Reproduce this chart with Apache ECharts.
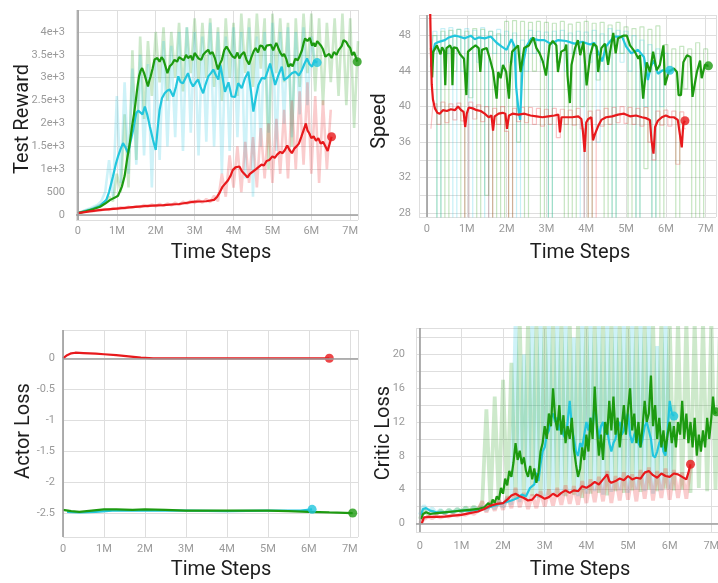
<!DOCTYPE html>
<html>
<head>
<meta charset="utf-8">
<script src="https://cdn.jsdelivr.net/npm/echarts@6/dist/echarts.min.js"></script>
<style>
  html, body { margin: 0; padding: 0; background: #ffffff; }
  #chart { width: 718px; height: 583px; }
</style>
</head>
<body>
<div id="chart"></div>
<script>
// Training curves: smoothed runs ([step in millions, value]) plus the raw
// logged values, one entry every 0.1M steps from the given start step.

// ---- Test Reward ----
const rewardGreen = [[0,40],[0.2,80],[0.4,130],[0.57,180],[0.7,250],[0.83,330],[0.95,380],[1.03,420],[1.13,620],[1.2,850],[1.26,1200],[1.33,1550],[1.39,1930],[1.44,2200],[1.48,2450],[1.53,2800],[1.57,3030],[1.61,3150],[1.65,3210],[1.7,3100],[1.74,3140],[1.8,2810],[1.84,2950],[1.87,3030],[1.92,3200],[1.97,3400],[2.04,3430],[2.1,3350],[2.15,3450],[2.2,3390],[2.25,3250],[2.3,3100],[2.36,3250],[2.42,3300],[2.48,3390],[2.55,3350],[2.6,3450],[2.65,3470],[2.72,3380],[2.78,3500],[2.83,3430],[2.9,3480],[2.95,3380],[3.0,3540],[3.05,3480],[3.1,3420],[3.17,3390],[3.22,3500],[3.28,3560],[3.35,3610],[3.4,3520],[3.46,3560],[3.52,3430],[3.56,3300],[3.6,3180],[3.65,3300],[3.7,3390],[3.76,3600],[3.82,3680],[3.87,3610],[3.93,3520],[3.98,3460],[4.04,3430],[4.1,3550],[4.15,3420],[4.2,3500],[4.27,3560],[4.33,3400],[4.4,3290],[4.46,3450],[4.52,3580],[4.57,3650],[4.63,3550],[4.68,3700],[4.74,3690],[4.8,3600],[4.85,3700],[4.9,3680],[4.96,3720],[5.02,3600],[5.06,3680],[5.1,3760],[5.15,3650],[5.2,3550],[5.26,3470],[5.3,3520],[5.36,3400],[5.41,3240],[5.47,3300],[5.52,3250],[5.59,3420],[5.65,3380],[5.7,3470],[5.76,3600],[5.8,3750],[5.84,3860],[5.9,3800],[5.96,3870],[6.02,3700],[6.06,3760],[6.1,3680],[6.15,3800],[6.2,3830],[6.25,3700],[6.3,3620],[6.36,3460],[6.4,3480],[6.46,3520],[6.52,3430],[6.58,3560],[6.65,3500],[6.7,3600],[6.78,3690],[6.83,3820],[6.9,3780],[6.95,3700],[7.0,3650],[7.05,3490],[7.1,3560],[7.18,3350]];
const rewardCyan = [[0,40],[0.3,110],[0.55,190],[0.73,330],[0.8,500],[0.9,840],[0.97,1100],[1.03,1280],[1.1,1450],[1.16,1570],[1.22,1480],[1.29,1350],[1.35,1600],[1.42,1860],[1.5,2230],[1.55,2280],[1.6,2300],[1.66,2200],[1.72,2370],[1.78,2200],[1.85,1930],[1.93,1640],[2.0,1420],[2.05,1900],[2.1,2300],[2.16,2550],[2.23,2660],[2.3,2720],[2.36,2740],[2.45,2590],[2.52,2800],[2.58,3030],[2.64,2900],[2.7,2880],[2.77,3000],[2.83,3100],[2.9,2900],[2.96,2810],[3.03,2900],[3.09,2960],[3.15,2800],[3.22,2660],[3.28,2850],[3.35,3030],[3.42,3100],[3.48,3180],[3.55,3050],[3.61,2960],[3.66,3290],[3.72,3000],[3.78,2690],[3.87,2900],[3.95,2590],[4.04,2580],[4.12,2880],[4.21,2770],[4.3,3000],[4.38,3130],[4.45,2700],[4.51,2260],[4.58,2600],[4.64,2840],[4.73,3000],[4.81,2980],[4.88,3150],[4.94,3310],[5.0,3100],[5.07,2840],[5.15,3050],[5.24,3240],[5.3,2950],[5.41,3020],[5.5,3100],[5.59,3130],[5.68,3050],[5.76,3170],[5.82,3300],[5.89,3420],[5.95,3300],[6.02,3240],[6.08,3380],[6.15,3330]];
const rewardRed = [[0,40],[0.3,80],[0.6,110],[1.0,140],[1.4,170],[1.8,200],[2.2,215],[2.6,240],[3.0,290],[3.3,300],[3.5,330],[3.58,400],[3.65,500],[3.72,620],[3.8,700],[3.86,760],[3.92,850],[3.98,980],[4.05,1040],[4.1,1000],[4.15,1060],[4.22,950],[4.3,880],[4.36,820],[4.42,900],[4.5,950],[4.58,1000],[4.65,1050],[4.72,1100],[4.78,1080],[4.85,1180],[4.92,1200],[5.0,1280],[5.06,1250],[5.12,1320],[5.2,1380],[5.26,1350],[5.32,1420],[5.38,1520],[5.44,1420],[5.5,1350],[5.56,1450],[5.62,1500],[5.68,1560],[5.74,1700],[5.8,1850],[5.86,2000],[5.9,1850],[5.95,1780],[6.0,1680],[6.06,1720],[6.12,1620],[6.18,1680],[6.24,1560],[6.3,1600],[6.36,1500],[6.42,1400],[6.46,1520],[6.52,1710]];
const rewardGreenRaw = [40,70,100,120,150,190,230,280,400,300,900,500,2200,600,3600,1200,3900,2100,3800,2600,4000,2900,4100,2500,4000,3000,4200,2700,4100,3100,4300,2900,4200,3000,4300,2800,4100,2500,4300,3000,4200,2600,4400,3100,4300,2800,4400,3200,4300,1000,4400,3100,4300,2900,4200,1500,4300,2800,4400,3100,4400,2700,4300,2400,4200,2900,4300,2600,4400,2400,4300,1900,3800];
const rewardCyanRaw = [40,70,110,140,180,220,300,500,1200,400,2600,700,2900,900,3200,1100,3500,1300,3300,600,3400,1200,3800,1500,3700,1700,4000,1400,4100,1800,4000,1300,3900,1600,4200,1500,4000,900,3900,1400,4100,1700,4000,800,4100,400,3900,1500,4000,1800,4200,1400,4000,2000,4100,1700,4000,2200,4100,2400,3900,3300];
const rewardRedRaw = [40,60,70,90,80,110,100,130,110,150,130,170,140,180,160,190,170,220,180,230,190,240,200,250,210,270,220,290,240,310,260,330,270,350,280,420,300,900,400,1300,600,1500,500,1600,700,1700,600,1900,800,2000,700,2100,900,2300,800,2500,1000,2700,1100,2900,900,2600,700,2500,1000,2300];

// ---- Speed ----
const speedGreen = [[0.1,46.6],[0.13,43.3],[0.16,46.2],[0.25,46.9],[0.34,45.9],[0.38,46.7],[0.43,46.3],[0.46,42.4],[0.49,46.6],[0.58,46.9],[0.62,46.5],[0.64,42.4],[0.67,46.7],[0.75,46.6],[0.83,45.9],[0.93,45.4],[0.99,41.3],[1.03,46.2],[1.13,46.6],[1.22,46.9],[1.3,46.6],[1.34,43.9],[1.38,46.4],[1.5,46.6],[1.58,45.4],[1.66,44.0],[1.75,40.9],[1.79,43.9],[1.85,43.2],[1.91,44.7],[1.99,43.9],[2.06,40.9],[2.1,44.5],[2.14,46.2],[2.29,46.9],[2.35,43.9],[2.44,46.6],[2.56,46.9],[2.67,47.8],[2.75,46.6],[2.83,46.0],[2.91,45.1],[2.99,43.5],[3.08,46.9],[3.16,47.4],[3.25,46.9],[3.29,43.9],[3.37,46.2],[3.46,46.4],[3.5,47.0],[3.53,43.5],[3.59,40.4],[3.63,44.7],[3.72,46.6],[3.79,47.5],[3.85,45.8],[3.93,47.3],[4.01,42.4],[4.1,45.8],[4.18,47.1],[4.26,46.8],[4.3,43.9],[4.38,46.6],[4.47,47.1],[4.55,44.7],[4.6,46.2],[4.68,48.3],[4.74,46.0],[4.8,47.7],[4.93,48.0],[5.02,48.0],[5.1,46.9],[5.22,46.2],[5.31,45.4],[5.35,45.8],[5.43,40.9],[5.52,45.0],[5.6,43.9],[5.68,46.2],[5.77,44.1],[5.85,44.7],[5.94,46.9],[5.98,42.4],[6.07,43.9],[6.2,44.3],[6.28,43.9],[6.32,41.3],[6.38,41.3],[6.44,45.0],[6.53,45.8],[6.62,45.6],[6.67,41.1],[6.78,43.9],[6.86,45.2],[6.9,43.2],[6.98,44.7],[7.07,44.6]];
const speedCyan = [[0.1,44.5],[0.15,46.0],[0.2,47.1],[0.3,47.3],[0.45,47.5],[0.55,47.8],[0.7,48.0],[0.8,47.9],[0.95,47.7],[1.1,48.0],[1.2,47.6],[1.3,47.8],[1.45,47.7],[1.6,47.9],[1.75,47.2],[1.87,46.8],[2.0,46.4],[2.12,47.6],[2.2,46.8],[2.24,42.2],[2.3,39.6],[2.34,38.5],[2.4,44.5],[2.5,46.8],[2.62,47.7],[2.8,47.5],[2.95,47.5],[3.1,47.1],[3.3,47.5],[3.5,47.4],[3.7,47.1],[3.9,47.3],[4.1,47.0],[4.2,47.2],[4.4,45.1],[4.5,46.8],[4.7,47.9],[4.9,47.9],[5.0,46.8],[5.13,46.0],[5.3,46.4],[5.45,45.6],[5.55,43.0],[5.62,44.5],[5.7,45.2],[5.8,43.7],[5.92,44.1],[6.0,44.0],[6.1,44.1]];
const speedRed = [[0.08,51],[0.1,46],[0.12,42.5],[0.15,40.8],[0.2,39.8],[0.26,39.3],[0.32,39.2],[0.4,39.6],[0.5,39.5],[0.6,39.7],[0.7,39.6],[0.78,40.0],[0.86,39.6],[0.92,39.4],[0.96,37.7],[1.0,39.2],[1.05,39.9],[1.15,39.8],[1.25,39.6],[1.35,39.5],[1.45,39.2],[1.55,38.8],[1.62,39.0],[1.66,37.3],[1.7,38.9],[1.8,39.2],[1.9,39.3],[1.97,39.2],[2.01,37.5],[2.06,39.0],[2.15,39.2],[2.3,39.1],[2.45,39.2],[2.6,39.0],[2.75,38.9],[2.9,38.8],[3.05,38.9],[3.2,39.0],[3.3,39.1],[3.34,37.1],[3.38,38.8],[3.5,38.8],[3.65,38.8],[3.8,38.9],[3.88,38.6],[3.92,37.1],[3.96,34.9],[4.0,38.2],[4.05,38.6],[4.13,38.8],[4.17,36.2],[4.22,36.9],[4.3,37.8],[4.38,38.5],[4.5,38.8],[4.65,38.9],[4.8,39.1],[4.95,39.2],[5.1,38.9],[5.25,39.0],[5.4,38.8],[5.5,38.7],[5.6,38.5],[5.64,36.2],[5.69,34.7],[5.73,37.7],[5.8,38.4],[5.9,38.8],[6.0,39.0],[6.1,38.8],[6.2,38.8],[6.3,38.5],[6.35,38.6],[6.4,35.4],[6.44,38.1],[6.48,38.4]];
const speedGreenRaw = [45,48,27,48.5,27,48.6,44,48.7,27,48.5,41,48.8,27,48.7,30,48.5,27,48.2,27,49.6,27,49.7,36,49.6,27,49.5,44,49.6,27,49.5,27,49.4,45,49.6,27,49.3,27,49.5,40,49.6,27,49.4,43,49.5,27,49.2,27,49.5,46,49.0,27,48.8,27,49.0,33,48.7,27,49.1,27,47.0,44,46.5,27,46.8,42,46.5,27,47.2,27,46.5,44.5];
const speedCyanRaw = [44,48.5,27,48.8,46,48.9,27,48.7,44,48.8,27,48.6,45,48.9,27,48.5,46,48.7,44,48.5,45,48.3,27,47.5,44,48.6,46,48.5,45,48.4,27,48.5,46,48.6,44,48.3,46,48.5,27,48.4,45,48.6,36,48.2,44,48.8,27,48.6,45,48.5,44,48.0,27,47.5,40,47.0,27,46.5,40,46.0,44];
const speedRedRaw = [37.5,40.3,38,40.5,38.2,40.3,38.5,40.4,38.4,27,40.5,38.6,40.2,38.3,40.0,27,39.8,38.0,40.0,37.2,27,39.8,38.3,39.9,38.2,39.9,38.0,39.8,37.8,39.7,38.0,39.8,36.5,39.7,38.0,39.6,37.9,39.8,37.5,27,39.5,27,39.6,37.8,39.8,38.0,39.9,38.2,40.0,38.1,39.9,38.0,39.8,37.8,39.9,36.0,34.0,39.5,37.9,39.6,37.8,39.5,33.5,39.4,37.5];

// ---- Actor Loss ----
const actorRed = [[0,0],[0.1,0.05],[0.2,0.08],[0.3,0.09],[0.5,0.085],[0.8,0.075],[1.0,0.065],[1.3,0.05],[1.6,0.03],[1.9,0.01],[2.2,0.0],[3,0],[4,0],[5,0],[6,0],[6.5,0]];
const actorGreen = [[0,-2.45],[0.2,-2.47],[0.4,-2.48],[0.7,-2.46],[1.0,-2.44],[1.3,-2.44],[1.7,-2.45],[2.0,-2.44],[2.5,-2.45],[3,-2.46],[3.5,-2.46],[4,-2.46],[4.5,-2.46],[5,-2.46],[5.5,-2.47],[6,-2.48],[6.5,-2.49],[7.07,-2.5]];
const actorCyan = [[0.1,-2.48],[0.4,-2.49],[0.8,-2.48],[1.2,-2.46],[2,-2.46],[3,-2.46],[4,-2.47],[5,-2.46],[5.5,-2.46],[5.8,-2.46],[6.08,-2.44]];

// ---- Critic Loss ----
const criticGreen = [[0.03,0.5],[0.08,1.1],[0.15,1.3],[0.25,1.1],[0.4,1.2],[0.6,1.3],[0.8,1.4],[1.0,1.5],[1.2,1.6],[1.4,1.7],[1.55,1.9],[1.65,2.4],[1.7,2.0],[1.75,2.8],[1.8,2.4],[1.85,3.2],[1.9,2.8],[1.95,4.2],[2.0,3.5],[2.05,5.3],[2.1,4.5],[2.15,6.2],[2.2,5.5],[2.25,7.2],[2.3,9.5],[2.35,7.5],[2.4,8.6],[2.45,7.0],[2.5,7.8],[2.55,6.2],[2.6,5.5],[2.65,6.8],[2.7,5.2],[2.75,6.5],[2.8,4.8],[2.85,6.0],[2.9,8.5],[2.95,9.5],[3.0,11.5],[3.05,10.0],[3.1,13.0],[3.15,11.5],[3.2,16.0],[3.25,12.5],[3.3,11.0],[3.35,14.0],[3.4,10.5],[3.45,12.8],[3.5,9.5],[3.55,11.5],[3.6,10.0],[3.65,12.5],[3.7,8.8],[3.75,7.0],[3.8,5.5],[3.85,6.5],[3.9,9.0],[3.95,7.5],[4.0,10.5],[4.05,8.5],[4.1,12.5],[4.15,10.0],[4.2,16.2],[4.25,11.5],[4.3,8.0],[4.35,10.5],[4.4,7.5],[4.45,12.0],[4.5,10.5],[4.55,14.5],[4.6,11.0],[4.65,15.0],[4.7,10.5],[4.75,12.5],[4.8,9.0],[4.85,11.5],[4.9,14.0],[4.95,10.5],[5.0,13.5],[5.05,16.0],[5.1,11.0],[5.15,13.0],[5.2,9.5],[5.25,12.0],[5.3,9.0],[5.35,11.5],[5.4,14.5],[5.45,12.0],[5.5,13.0],[5.55,17.5],[5.6,11.5],[5.65,14.0],[5.7,10.0],[5.75,12.5],[5.8,9.0],[5.85,11.0],[5.9,8.5],[5.95,10.5],[6.0,12.0],[6.05,9.5],[6.1,11.5],[6.15,9.0],[6.2,12.0],[6.25,10.5],[6.3,14.5],[6.35,10.0],[6.4,13.0],[6.45,9.5],[6.5,12.0],[6.55,9.0],[6.6,12.5],[6.65,8.0],[6.7,10.5],[6.75,8.5],[6.8,11.0],[6.85,9.0],[6.9,12.5],[6.95,10.0],[7.0,12.5],[7.04,15.0],[7.08,13.0],[7.12,13.2]];
const criticCyan = [[0.03,1.0],[0.08,1.7],[0.15,1.8],[0.25,1.5],[0.4,1.3],[0.6,1.3],[0.8,1.4],[1.0,1.5],[1.2,1.5],[1.4,1.6],[1.6,1.8],[1.8,2.1],[2.0,2.4],[2.2,2.7],[2.35,3.0],[2.45,3.4],[2.55,3.2],[2.65,4.2],[2.75,4.6],[2.8,6.0],[2.85,5.0],[2.9,7.0],[2.95,8.5],[3.0,9.0],[3.05,10.5],[3.1,11.0],[3.15,12.5],[3.2,13.0],[3.25,12.0],[3.3,12.5],[3.35,11.0],[3.4,12.0],[3.45,10.5],[3.5,10.0],[3.55,12.0],[3.6,14.5],[3.65,11.5],[3.7,10.0],[3.75,8.5],[3.8,8.0],[3.85,9.5],[3.9,9.0],[3.95,10.5],[4.0,12.0],[4.05,11.0],[4.1,12.5],[4.15,11.0],[4.2,14.5],[4.25,12.0],[4.3,10.0],[4.35,11.5],[4.4,12.0],[4.45,10.5],[4.5,11.0],[4.55,9.5],[4.6,8.5],[4.65,9.5],[4.7,10.0],[4.75,11.5],[4.8,12.0],[4.85,10.5],[4.9,11.0],[4.95,12.5],[5.0,13.0],[5.05,10.5],[5.1,9.5],[5.15,10.5],[5.2,11.0],[5.25,9.5],[5.3,9.0],[5.35,10.0],[5.4,11.5],[5.45,12.0],[5.5,11.0],[5.55,10.0],[5.6,8.0],[5.65,7.8],[5.7,8.5],[5.75,9.5],[5.8,10.0],[5.85,8.5],[5.9,8.0],[5.95,11.0],[6.0,14.5],[6.05,13.0],[6.1,12.7]];
const criticRed = [[0.05,0],[0.1,0.7],[0.2,0.75],[0.4,0.75],[0.6,0.8],[0.8,0.9],[1.0,1.0],[1.2,1.2],[1.4,1.4],[1.55,1.7],[1.7,2.1],[1.85,2.3],[2.0,2.4],[2.1,2.8],[2.2,3.3],[2.3,3.5],[2.4,3.2],[2.5,3.0],[2.6,2.7],[2.7,2.8],[2.8,3.4],[2.9,3.2],[3.0,2.9],[3.1,3.1],[3.2,3.5],[3.3,3.2],[3.4,3.6],[3.5,3.9],[3.6,3.6],[3.7,3.9],[3.8,3.8],[3.9,4.4],[4.0,4.2],[4.1,4.5],[4.2,4.9],[4.3,4.6],[4.4,5.2],[4.5,5.8],[4.55,5.0],[4.6,4.8],[4.7,5.0],[4.8,5.3],[4.9,5.1],[5.0,5.6],[5.1,5.2],[5.2,5.4],[5.3,5.3],[5.4,6.0],[5.5,6.2],[5.6,5.7],[5.7,5.4],[5.8,5.9],[5.9,5.6],[6.0,5.5],[6.1,5.9],[6.2,5.8],[6.3,5.5],[6.4,5.2],[6.45,6.0],[6.5,7.0]];
const criticGreenRaw = [0.5,1.6,1.0,1.4,1.1,1.5,1.2,1.6,1.3,1.7,1.4,1.9,1.5,2.0,1.6,2.4,13.5,2.0,15.0,2.3,17.0,2.6,19.0,3.0,24,3.0,24,3.2,24,3.0,24,3.3,24,3.5,24,3.2,24,3.4,24,3.0,24,3.5,24,3.6,24,3.3,24,3.8,24,3.6,24,3.9,24,3.7,24,4.0,24,3.8,24,4.1,24,3.9,24,4.0,24,3.6,24,4.2,24,3.8,24,4.0,22];
const criticCyanRaw = [1.0,2.1,1.4,1.8,1.2,1.6,1.1,1.6,1.2,1.7,1.3,1.8,1.3,1.9,1.4,2.0,1.5,2.3,1.7,2.6,1.9,3.0,2.2,24,2.5,20,2.8,24,3.0,24,3.2,24,3.5,24,3.3,24,3.6,22,3.2,24,3.5,24,3.8,24,3.4,24,3.7,24,3.9,24,3.6,24,4.0,24,3.8,24,3.5,21,3.9,24,4.0,14];
const criticRedRaw = [0,0.5,0.8,0.6,0.9,0.7,0.9,0.8,1.0,0.9,1.1,1.0,1.3,1.1,1.5,2.6,1.3,2.6,1.5,2.8,1.6,3.2,1.8,4.2,1.9,3.6,1.7,3.4,1.8,3.8,2.0,4.0,2.1,4.2,2.2,4.5,2.3,4.4,2.2,5.0,2.4,5.2,2.5,5.5,2.6,6.2,2.4,5.6,2.7,6.0,2.8,5.8,2.6,6.3,2.9,6.6,2.7,6.2,3.0,6.5,2.8,6.3,3.0,6.0,2.9,6.8];

// logging interval of the raw traces, in millions of steps
const LOG_STEP = 0.1;
function logged(start, values) {
  return values.map((v, i) => [Math.round((start + i * LOG_STEP) * 100) / 100, v]);
}

const GREEN = '#1d9a10';
const CYAN = '#22c6dd';
const RED = '#e8191c';
const FONT = 'Roboto, "Noto Sans", sans-serif';

const grids = [
  { left: 76, top: 10, width: 282, height: 210 },
  { left: 419, top: 15, width: 297, height: 202 },
  { left: 63, top: 330, width: 295, height: 207 },
  { left: 416, top: 328, width: 302, height: 204 }
];
const xRanges = [[-0.05, 7.2], [-0.2, 7.26], [0, 7.2], [-0.09, 7.16]];
const yRanges = [[-110, 4480], [27.55, 50.33], [-2.887, 0.457], [-1.03, 23.13]];
const ySplits = [9, 11, 7, 12];
const xLabelMargins = [6, 7, 7, 9];
const yLabelMargins = [11, 8, 8, 11];
// how the raw traces are stroked in each panel
const rawLooks = [
  { step: false, width: 2.6, opacity: 0.22 },
  { step: 'middle', width: 1.2, opacity: 0.26 },
  null,
  { step: false, width: 3.8, opacity: 0.22 }
];

const yFormatters = [
  v => (v < 0 || v % 500 !== 0) ? '' : (v < 1000 ? String(v) : (v / 1000) + 'e+3'),
  v => (v % 4 === 0) ? String(v) : '',
  v => (Math.abs(v * 2 - Math.round(v * 2)) < 1e-6) ? String(Math.round(v * 2) / 2) : '',
  v => (v % 4 === 0) ? String(v) : ''
];
const xFormatter = v => Number.isInteger(v) ? (v === 0 ? '0' : v + 'M') : '';

const labelStyle = { color: '#9a9a9a', fontSize: 11, fontFamily: FONT };
const splitStyle = { lineStyle: { color: '#dedede', width: 1 } };

const xAxes = grids.map((g, i) => ({
  type: 'value', gridIndex: i, min: xRanges[i][0], max: xRanges[i][1], splitNumber: 7,
  axisLine: { show: false }, axisTick: { show: false },
  axisLabel: Object.assign({ formatter: xFormatter, margin: xLabelMargins[i] }, labelStyle),
  splitLine: splitStyle
}));
const yAxes = grids.map((g, i) => ({
  type: 'value', gridIndex: i, min: yRanges[i][0], max: yRanges[i][1], splitNumber: ySplits[i],
  axisLine: { show: false }, axisTick: { show: false },
  axisLabel: Object.assign({ formatter: yFormatters[i], margin: yLabelMargins[i] }, labelStyle),
  splitLine: splitStyle
}));

function axisMarks(withZeroRow) {
  const data = [{ xAxis: 0 }];
  if (withZeroRow) data.push({ yAxis: 0 });
  return {
    silent: true, symbol: 'none', label: { show: false },
    lineStyle: { color: '#9c9c9c', width: 1.6, type: 'solid' },
    emphasis: { disabled: true },
    data: data
  };
}

function raw(gi, data, color, marks) {
  const look = rawLooks[gi];
  const s = {
    type: 'line', xAxisIndex: gi, yAxisIndex: gi, data: data, step: look.step,
    showSymbol: false, silent: true, z: 1,
    lineStyle: { color: color, width: look.width, opacity: look.opacity, join: 'bevel' }
  };
  if (marks) s.markLine = marks;
  return s;
}
function smooth(gi, data, color, marks) {
  const s = {
    type: 'line', xAxisIndex: gi, yAxisIndex: gi, data: data,
    showSymbol: false, silent: true, z: 3,
    lineStyle: { color: color, width: 2.2 }
  };
  if (marks) s.markLine = marks;
  return s;
}
function endDot(gi, data, color) {
  return {
    type: 'scatter', xAxisIndex: gi, yAxisIndex: gi, data: [data[data.length - 1]],
    symbolSize: 9, silent: true, z: 4, itemStyle: { color: color }
  };
}

const series = [
  // Test Reward
  raw(0, logged(0, rewardGreenRaw), GREEN, axisMarks(true)),
  raw(0, logged(0, rewardCyanRaw), CYAN),
  raw(0, logged(0, rewardRedRaw), RED),
  smooth(0, rewardCyan, CYAN), smooth(0, rewardGreen, GREEN), smooth(0, rewardRed, RED),
  endDot(0, rewardCyan, CYAN), endDot(0, rewardGreen, GREEN), endDot(0, rewardRed, RED),
  // Speed
  raw(1, logged(0.1, speedGreenRaw), GREEN, axisMarks(false)),
  raw(1, logged(0.1, speedCyanRaw), CYAN),
  raw(1, logged(0.1, speedRedRaw), RED),
  smooth(1, speedCyan, CYAN), smooth(1, speedGreen, GREEN), smooth(1, speedRed, RED),
  endDot(1, speedCyan, CYAN), endDot(1, speedGreen, GREEN), endDot(1, speedRed, RED),
  // Actor Loss
  smooth(2, actorCyan, CYAN, axisMarks(true)), smooth(2, actorGreen, GREEN), smooth(2, actorRed, RED),
  endDot(2, actorCyan, CYAN), endDot(2, actorGreen, GREEN), endDot(2, actorRed, RED),
  // Critic Loss
  raw(3, logged(0, criticCyanRaw), CYAN, axisMarks(true)),
  raw(3, logged(0, criticGreenRaw), GREEN),
  raw(3, logged(0, criticRedRaw), RED),
  smooth(3, criticCyan, CYAN), smooth(3, criticGreen, GREEN), smooth(3, criticRed, RED),
  endDot(3, criticCyan, CYAN), endDot(3, criticGreen, GREEN), endDot(3, criticRed, RED)
];

// axis titles
const titleFont = '20px ' + FONT;
function title(text, x, y, vertical) {
  return {
    type: 'text', x: x, y: y, rotation: vertical ? Math.PI / 2 : 0, silent: true,
    style: { text: text, font: titleFont, fill: '#1e1e1e', align: 'center', verticalAlign: 'middle' }
  };
}
const graphics = [
  title('Test Reward', 23, 119, true),
  title('Time Steps', 221, 253, false),
  title('Speed', 380, 121, true),
  title('Time Steps', 580, 253, false),
  title('Actor Loss', 24, 431, true),
  title('Time Steps', 221, 570, false),
  title('Critic Loss', 384, 433, true),
  title('Time Steps', 580, 570, false)
];

const chart = echarts.init(document.getElementById('chart'), null, { renderer: 'canvas' });
chart.setOption({
  animation: false,
  backgroundColor: '#ffffff',
  grid: grids.map(g => Object.assign({ containLabel: false, outerBoundsMode: 'none' }, g)),
  xAxis: xAxes,
  yAxis: yAxes,
  series: series,
  graphic: graphics
});
</script>
</body>
</html>
